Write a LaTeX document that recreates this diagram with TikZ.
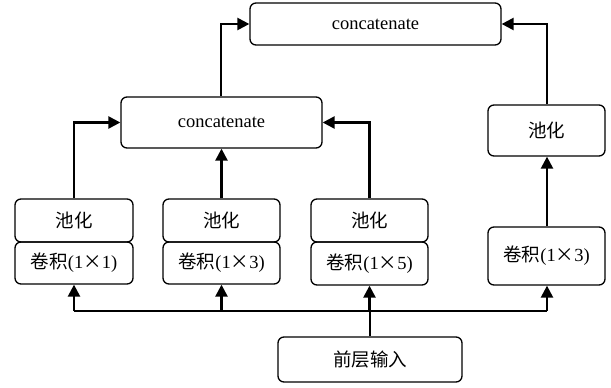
\documentclass[tikz,border=0pt]{standalone}
\usepackage{fontspec}
\setmainfont{Liberation Serif}
\newfontfamily\cjk{Noto Sans CJK SC}
\usetikzlibrary{arrows.meta}
\begin{document}
\begin{tikzpicture}[x=1pt,y=-1pt,
  box/.style={draw,line width=1.3pt,rounded corners=6pt,inner sep=0pt,font=\fontsize{18.5}{22}\selectfont},
  conn/.style={line width=2.4pt,-{Triangle[length=12pt,width=12pt]}},
  line/.style={line width=2.4pt}]
\useasboundingbox (0,0) rectangle (611,388);
\newcommand{\bx}[6]{\node[box,minimum width=#3-#2,minimum height=#5-#4] (#1) at ({(#2+#3)/2},{(#4+#5)/2}) {#6};}
\bx{top}{250}{501}{3}{45}{concatenate}
\bx{mid}{121}{322}{97}{148}{concatenate}
\bx{rp}{488}{605}{105}{156}{\cjk 池化}
\bx{p1}{15}{133}{199}{242}{\cjk 池化}
\bx{c1}{15}{133}{242}{284}{\cjk 卷积\rmfamily(1\cjk ×\rmfamily 1)}
\bx{p2}{163}{280}{199}{242}{\cjk 池化}
\bx{c2}{163}{280}{242}{284}{\cjk 卷积\rmfamily(1\cjk ×\rmfamily 3)}
\bx{p3}{311}{428}{199}{242}{\cjk 池化}
\bx{c3}{311}{428}{242}{285}{\cjk 卷积\rmfamily(1\cjk ×\rmfamily 5)}
\bx{rc}{488}{605}{227}{285}{\cjk 卷积\rmfamily(1\cjk ×\rmfamily 3)}
\bx{in}{278}{462}{337}{382}{\cjk 前层输入}
% bus
\coordinate (b1) at (74,311);
\coordinate (b4) at (547,311);
\draw[line] (b1) -- (b4);
\draw[line] (in.north) -- (in.north |- b1);
\draw[conn] (b1) -- (c1.south -| b1);
\draw[conn] (c2.south |- b1) -- (c2.south);
\draw[conn] (c3.south |- b1) -- (c3.south);
\draw[conn] (b4) -- (rc.south -| b4);
% to middle concat
\draw[conn] (p1.north -| b1) |- (mid.west);
\draw[conn] (p2.north) -- (mid.south -| p2.north);
\draw[conn] (p3.north) |- (mid.east);
% to top
\draw[conn] (rc.north -| b4) -- (rp.south -| b4);
\coordinate (m1) at (221,24);
\draw[conn] (mid.north -| m1) |- (top.west |- m1);
\draw[conn] (rp.north -| b4) |- (top.east |- m1);
\end{tikzpicture}
\end{document}
